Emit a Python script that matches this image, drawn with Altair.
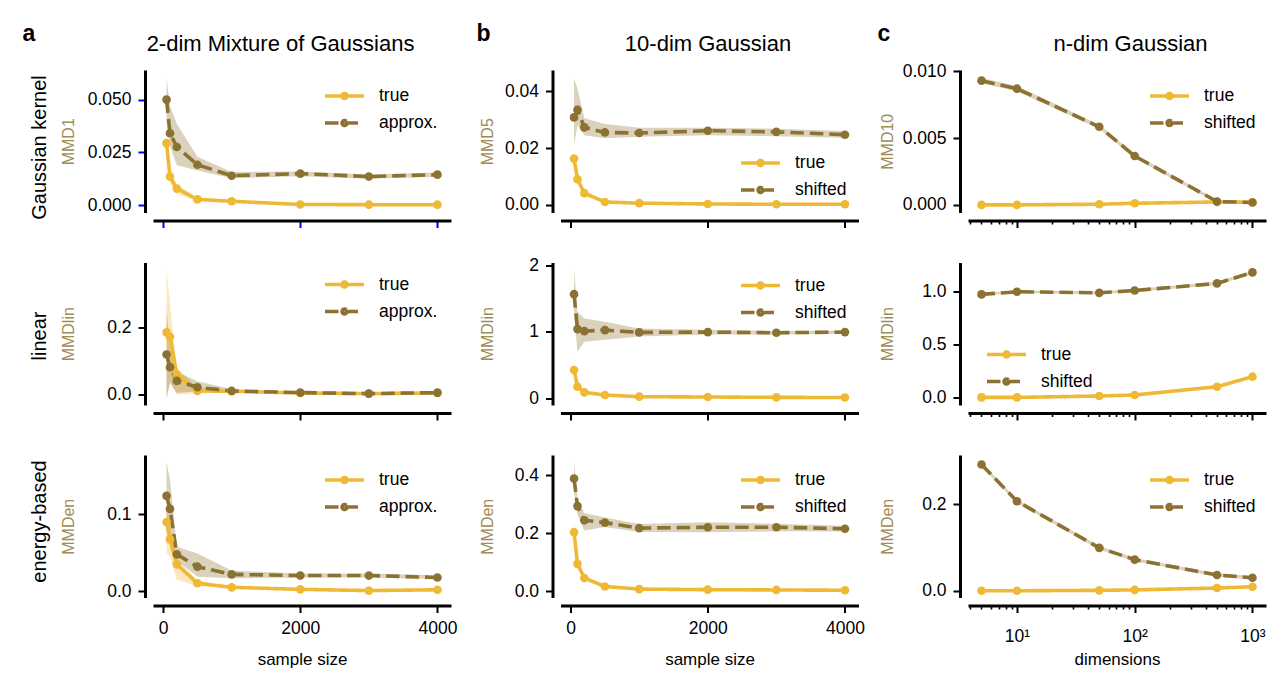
import altair as alt
import pandas as pd

FONT = "Liberation Sans"
YELLOW = "#EFB935"
BROWN = "#8C7232"
YLABEL_COLOR = "#A08C55"

# ---------------- data ----------------
SAMPLE_SIZES = [50, 100, 200, 500, 1000, 2000, 3000, 4000]
DIMENSIONS = [5, 10, 50, 100, 500, 1000]

COLUMN_TITLES = ["2-dim Mixture of Gaussians", "10-dim Gaussian", "n-dim Gaussian"]
PANEL_LETTERS = ["a", "b", "c"]
ROW_LABELS = ["Gaussian kernel", "linear", "energy-based"]
Y_TITLES = [["MMD1", "MMD5", "MMD10"], ["MMDlin", "MMDlin", "MMDlin"], ["MMDen", "MMDen", "MMDen"]]
X_TITLES = ["sample size", "sample size", "dimensions"]
SERIES_A = ["true", "approx."]
SERIES_BC = ["true", "shifted"]
LINEAR_X_TICKS = [0, 2000, 4000]
LOG_TICKS = [10, 100, 1000]
LOG_TICK_LABELS = ["10\u00b9", "10\u00b2", "10\u00b3"]
LOG_MINOR_TICKS = [4, 5, 6, 7, 8, 9, 20, 30, 40, 50, 60, 70, 80, 90,
                   200, 300, 400, 500, 600, 700, 800, 900]

# a: 2-dim mixture of Gaussians
A1_TRUE = [0.0294, 0.0136, 0.0079, 0.0028, 0.0019, 0.0004, 0.0003, 0.0003]
A1_TRUE_LO = [0.0280, 0.0105, 0.0055, 0.0020, 0.0013, 0.0001, 0.0001, 0.0001]
A1_TRUE_HI = [0.0305, 0.0160, 0.0100, 0.0036, 0.0025, 0.0007, 0.0005, 0.0005]
A1_APPROX = [0.0500, 0.0341, 0.0276, 0.0192, 0.0140, 0.0150, 0.0136, 0.0145]
A1_APPROX_LO = [0.0400, 0.0280, 0.0190, 0.0165, 0.0128, 0.0138, 0.0126, 0.0135]
A1_APPROX_HI = [0.0600, 0.0470, 0.0385, 0.0230, 0.0158, 0.0160, 0.0146, 0.0155]

A2_TRUE = [0.186, 0.173, 0.060, 0.011, 0.010, 0.005, 0.003, 0.005]
A2_TRUE_LO = [-0.012, 0.040, 0.000, 0.004, 0.007, 0.003, 0.002, 0.003]
A2_TRUE_HI = [0.375, 0.270, 0.080, 0.022, 0.014, 0.007, 0.005, 0.007]
A2_APPROX = [0.120, 0.082, 0.041, 0.022, 0.011, 0.006, 0.003, 0.006]
A2_APPROX_LO = [-0.010, 0.035, 0.005, 0.010, 0.008, 0.004, 0.002, 0.004]
A2_APPROX_HI = [0.255, 0.140, 0.068, 0.040, 0.016, 0.008, 0.005, 0.008]

A3_TRUE = [0.090, 0.0675, 0.035, 0.0105, 0.0052, 0.0026, 0.0010, 0.0020]
A3_TRUE_LO = [0.050, 0.045, 0.015, 0.007, 0.004, 0.0015, 0.0002, 0.0010]
A3_TRUE_HI = [0.110, 0.085, 0.042, 0.014, 0.0065, 0.0037, 0.0020, 0.0030]
A3_APPROX = [0.124, 0.107, 0.048, 0.032, 0.022, 0.0205, 0.0205, 0.018]
A3_APPROX_LO = [0.085, 0.075, 0.040, 0.019, 0.017, 0.018, 0.018, 0.016]
A3_APPROX_HI = [0.168, 0.145, 0.058, 0.049, 0.027, 0.023, 0.023, 0.021]

# b: 10-dim Gaussian
B1_TRUE = [0.0163, 0.0090, 0.0041, 0.0010, 0.0006, 0.0003, 0.0002, 0.0002]
B1_TRUE_LO = [0.0150, 0.0080, 0.0033, 0.0007, 0.0004, 0.0002, 0.0001, 0.0001]
B1_TRUE_HI = [0.0178, 0.0102, 0.0050, 0.0013, 0.0008, 0.0005, 0.0004, 0.0004]
B1_SHIFT = [0.0308, 0.0335, 0.0273, 0.0255, 0.0253, 0.0261, 0.0257, 0.0247]
B1_SHIFT_LO = [0.0210, 0.0280, 0.0245, 0.0235, 0.0240, 0.0245, 0.0242, 0.0236]
B1_SHIFT_HI = [0.0445, 0.0410, 0.0305, 0.0285, 0.0272, 0.0272, 0.0268, 0.0260]

B2_TRUE = [0.425, 0.175, 0.090, 0.050, 0.025, 0.020, 0.015, 0.012]
B2_TRUE_LO = [0.380, 0.150, 0.075, 0.040, 0.018, 0.013, 0.009, 0.007]
B2_TRUE_HI = [0.470, 0.200, 0.105, 0.060, 0.032, 0.027, 0.021, 0.017]
B2_SHIFT = [1.565, 1.040, 1.010, 1.025, 0.990, 0.995, 0.985, 0.995]
B2_SHIFT_LO = [1.300, 0.700, 0.850, 0.880, 0.930, 0.960, 0.960, 0.970]
B2_SHIFT_HI = [1.950, 1.300, 1.200, 1.150, 1.050, 1.030, 1.010, 1.020]

B3_TRUE = [0.204, 0.095, 0.046, 0.017, 0.008, 0.006, 0.005, 0.004]
B3_TRUE_LO = [0.165, 0.085, 0.040, 0.014, 0.006, 0.004, 0.003, 0.002]
B3_TRUE_HI = [0.245, 0.105, 0.052, 0.020, 0.010, 0.008, 0.007, 0.006]
B3_SHIFT = [0.389, 0.294, 0.245, 0.237, 0.218, 0.221, 0.221, 0.216]
B3_SHIFT_LO = [0.340, 0.265, 0.210, 0.222, 0.205, 0.204, 0.207, 0.206]
B3_SHIFT_HI = [0.445, 0.320, 0.270, 0.255, 0.232, 0.238, 0.233, 0.226]

# c: n-dim Gaussian
C1_TRUE = [0.00000, 0.00000, 0.00005, 0.00012, 0.00022, 0.00020]
C1_TRUE_LO = [-0.00005, -0.00005, 0.00000, 0.00007, 0.00017, 0.00015]
C1_TRUE_HI = [0.00005, 0.00005, 0.00010, 0.00017, 0.00027, 0.00025]
C1_SHIFT = [0.0093, 0.0087, 0.00585, 0.00366, 0.00025, 0.00018]
C1_SHIFT_LO = [0.0091, 0.0085, 0.0057, 0.0035, 0.00012, 0.00008]
C1_SHIFT_HI = [0.0095, 0.0089, 0.0060, 0.0038, 0.00038, 0.00028]

C2_TRUE = [0.000, 0.000, 0.013, 0.023, 0.101, 0.196]
C2_TRUE_LO = [-0.006, -0.006, 0.007, 0.016, 0.093, 0.186]
C2_TRUE_HI = [0.006, 0.006, 0.019, 0.030, 0.109, 0.206]
C2_SHIFT = [0.975, 1.000, 0.990, 1.012, 1.079, 1.183]
C2_SHIFT_LO = [0.962, 0.988, 0.977, 0.998, 1.064, 1.168]
C2_SHIFT_HI = [0.988, 1.012, 1.003, 1.026, 1.094, 1.198]

C3_TRUE = [0.000, 0.000, 0.001, 0.002, 0.0063, 0.0093]
C3_TRUE_LO = [-0.002, -0.002, -0.001, 0.000, 0.0043, 0.0073]
C3_TRUE_HI = [0.002, 0.002, 0.003, 0.004, 0.0083, 0.0113]
C3_SHIFT = [0.292, 0.207, 0.0993, 0.072, 0.0365, 0.030]
C3_SHIFT_LO = [0.288, 0.203, 0.0953, 0.068, 0.0325, 0.026]
C3_SHIFT_HI = [0.296, 0.211, 0.1033, 0.076, 0.0405, 0.034]

DATA = [
    [(A1_TRUE, A1_TRUE_LO, A1_TRUE_HI, A1_APPROX, A1_APPROX_LO, A1_APPROX_HI),
     (B1_TRUE, B1_TRUE_LO, B1_TRUE_HI, B1_SHIFT, B1_SHIFT_LO, B1_SHIFT_HI),
     (C1_TRUE, C1_TRUE_LO, C1_TRUE_HI, C1_SHIFT, C1_SHIFT_LO, C1_SHIFT_HI)],
    [(A2_TRUE, A2_TRUE_LO, A2_TRUE_HI, A2_APPROX, A2_APPROX_LO, A2_APPROX_HI),
     (B2_TRUE, B2_TRUE_LO, B2_TRUE_HI, B2_SHIFT, B2_SHIFT_LO, B2_SHIFT_HI),
     (C2_TRUE, C2_TRUE_LO, C2_TRUE_HI, C2_SHIFT, C2_SHIFT_LO, C2_SHIFT_HI)],
    [(A3_TRUE, A3_TRUE_LO, A3_TRUE_HI, A3_APPROX, A3_APPROX_LO, A3_APPROX_HI),
     (B3_TRUE, B3_TRUE_LO, B3_TRUE_HI, B3_SHIFT, B3_SHIFT_LO, B3_SHIFT_HI),
     (C3_TRUE, C3_TRUE_LO, C3_TRUE_HI, C3_SHIFT, C3_SHIFT_LO, C3_SHIFT_HI)],
]

Y_DOMAINS = [[[-0.0034, 0.064], [-0.0027, 0.0475], [-0.00057, 0.0101]],
             [[-0.031, 0.395], [-0.10, 2.04], [-0.072, 1.277]],
             [[-0.008, 0.177], [-0.021, 0.47], [-0.0156, 0.314]]]
Y_TICKS = [[[0, 0.025, 0.05], [0, 0.02, 0.04], [0, 0.005, 0.01]],
           [[0, 0.2], [0, 1, 2], [0, 0.5, 1.0]],
           [[0, 0.1], [0, 0.2, 0.4], [0, 0.2]]]
Y_FORMATS = [[".3f", ".2f", ".3f"], [".1f", "d", ".1f"], [".1f", ".1f", ".1f"]]

# ---------------- layout / style ----------------
W, H = 298, 142.5
LIN_X_DOMAIN = [-147.5, 4197.5]
LOG_X_DOMAIN = [3.84, 1303]

LEGEND_POS = [[(179.5, 14), (188, 81), (189.5, 14)],
              [(179.5, 10), (188, 11), (26.5, 80)],
              [(179.5, 13), (188, 13), (189.5, 13)]]
YTITLE_X = [-72, -60.5, -68]
LETTER_X = [-131, -84.5, -91]
COLTITLE_X = [127, 147, 162]
ROWLABEL_Y = [77, 73, 66]

LEGEND_PATH = ("M-1.95,0H1.95"
               "M0.25,0A0.25,0.25,0,1,1,-0.25,0A0.25,0.25,0,1,1,0.25,0"
               "M0.12,0A0.12,0.12,0,1,1,-0.12,0A0.12,0.12,0,1,1,0.12,0")


def text_axis_layer(base, xscale, yscale, channel, orient, text, field="mean", **kw):
    ax = alt.Axis(orient=orient, domain=False, ticks=False, labels=False, grid=False,
                  offset=0, title=text, titleColor="black", **kw)
    if channel == "x":
        enc = dict(x=alt.X("x:Q", scale=xscale, axis=ax),
                   y=alt.Y(field + ":Q", scale=yscale, axis=None))
    else:
        enc = dict(x=alt.X("x:Q", scale=xscale, axis=None),
                   y=alt.Y(field + ":Q", scale=yscale, axis=ax))
    return base.mark_point(opacity=0).encode(**enc)


def make_panel(r, c):
    xs = DIMENSIONS if c == 2 else SAMPLE_SIZES
    names = SERIES_A if c == 0 else SERIES_BC
    d = DATA[r][c]
    rows = []
    for name, (m, lo, hi) in zip(names, [(d[0], d[1], d[2]), (d[3], d[4], d[5])]):
        for x, mv, lv, hv in zip(xs, m, lo, hi):
            rows.append({"x": x, "series": name, "mean": mv, "lo": lv, "hi": hv})
    df = pd.DataFrame(rows)
    base = alt.Chart(df)

    if c == 2:
        xscale = alt.Scale(type="log", domain=LOG_X_DOMAIN, nice=False)
    else:
        xscale = alt.Scale(domain=LIN_X_DOMAIN, nice=False, zero=False)
    yscale = alt.Scale(domain=Y_DOMAINS[r][c], nice=False, zero=False)

    bottom = r == 2
    tick_color = "#0000ff" if (r, c) == (0, 0) else "black"

    x_axis_kw = dict(orient="bottom", offset=8, tickSize=7, tickWidth=2, tickColor=tick_color,
                     domainWidth=3, domainColor="black", labelFontSize=17.5,
                     labelPadding=15 if c == 2 else 7,
                     labelColor="black", labels=bottom, grid=False, labelFlush=False,
                     labelOverlap=False,
                     title=X_TITLES[c] if bottom else None, titleFontSize=17,
                     titleFontWeight="normal", titleColor="black", titleX=W / 2,
                     titleY=58.5, titleAlign="center", titleBaseline="alphabetic")
    if c == 2:
        label_expr = " : ".join(f"datum.value == {v} ? '{l}'"
                                for v, l in zip(LOG_TICKS, LOG_TICK_LABELS)) + " : ''"
        x_axis = alt.Axis(values=LOG_TICKS, labelExpr=label_expr, **x_axis_kw)
    else:
        x_axis = alt.Axis(values=LINEAR_X_TICKS, format="d", **x_axis_kw)

    y_axis = alt.Axis(orient="left", offset=8, values=Y_TICKS[r][c], format=Y_FORMATS[r][c],
                      tickSize=7, tickWidth=2, tickColor=tick_color, domainWidth=3,
                      domainColor="black", labelFontSize=17.5, labelPadding=7,
                      labelColor="black",
                      grid=False, labelFlush=False, labelOverlap=False,
                      title=Y_TITLES[r][c], titleColor=YLABEL_COLOR, titleFontSize=16,
                      titleFontWeight="normal", titleAngle=270, titleX=YTITLE_X[c],
                      titleY=H / 2, titleAlign="center", titleBaseline="alphabetic")

    lx, ly = LEGEND_POS[r][c]
    legend = alt.Legend(title=None, orient="none", legendX=lx, legendY=ly,
                        symbolType=LEGEND_PATH, symbolSize=400, symbolStrokeWidth=3.5,
                        labelFontSize=17.5, labelColor="black", labelOffset=22.5,
                        rowPadding=5)

    color_scale = alt.Scale(domain=names, range=[YELLOW, BROWN])
    # reversed domain order keeps the (legend-less) fill scale from absorbing the colour legend
    fill_scale = alt.Scale(domain=names[::-1], range=[BROWN, YELLOW])
    dash_scale = alt.Scale(domain=names, range=[[1, 0], [13.5, 6]])

    band = base.mark_area(opacity=0.32).encode(
        x=alt.X("x:Q", scale=xscale, axis=None),
        y=alt.Y("lo:Q", scale=yscale, axis=None),
        y2="hi:Q",
        fill=alt.Fill("series:N", scale=fill_scale, legend=None),
    )
    line = base.mark_line(strokeWidth=3.6, strokeJoin="round").encode(
        x=alt.X("x:Q", scale=xscale, axis=x_axis),
        y=alt.Y("mean:Q", scale=yscale, axis=y_axis),
        color=alt.Color("series:N", scale=color_scale, legend=legend),
        strokeDash=alt.StrokeDash("series:N", scale=dash_scale, legend=legend),
    )
    points = base.mark_point(filled=True, size=75, opacity=1, strokeWidth=0).encode(
        x=alt.X("x:Q", scale=xscale, axis=None),
        y=alt.Y("mean:Q", scale=yscale, axis=None),
        fill=alt.Fill("series:N", scale=fill_scale, legend=None),
    )
    layers = [band, line, points]

    if c == 2:
        minor = base.mark_point(opacity=0).encode(
            x=alt.X("x:Q", scale=xscale,
                    axis=alt.Axis(orient="bottom", offset=8, values=LOG_MINOR_TICKS,
                                  labels=False, domain=False, ticks=True, tickSize=3.5,
                                  tickWidth=1.6, tickColor="black", grid=False, title=None)),
            y=alt.Y("mean:Q", scale=yscale, axis=None),
        )
        layers.append(minor)

    if r == 0:
        layers.append(text_axis_layer(base, xscale, yscale, "x", "top", PANEL_LETTERS[c],
                                      titleX=LETTER_X[c], titleY=-30, titleAlign="left",
                                      titleBaseline="alphabetic", titleAngle=0,
                                      titleFontSize=23, titleFontWeight="bold"))
        layers.append(text_axis_layer(base, xscale, yscale, "y", "left", COLUMN_TITLES[c],
                                      titleX=COLTITLE_X[c], titleY=-20, titleAlign="center",
                                      titleBaseline="alphabetic", titleAngle=0,
                                      titleFontSize=22, titleFontWeight="normal"))
    if c == 0:
        layers.append(text_axis_layer(base, xscale, yscale, "y", "left", ROW_LABELS[r],
                                      field="hi", titleX=-108, titleY=ROWLABEL_Y[r],
                                      titleAlign="center", titleBaseline="alphabetic",
                                      titleAngle=270, titleFontSize=20,
                                      titleFontWeight="normal"))

    return alt.layer(*layers).resolve_axis(x="independent", y="independent").properties(
        width=W, height=H)


panels = [make_panel(r, c) for r in range(3) for c in range(3)]

chart = alt.ConcatChart(
    concat=panels, columns=3, spacing={"row": 49.5, "column": 109.5}, bounds="flush"
).resolve_scale(
    color="independent", strokeDash="independent", fill="independent"
).properties(
    padding={"left": 22, "top": 22, "right": 2, "bottom": 4}, background="white"
).configure(font=FONT).configure_view(stroke=None)

chart.save("out.html", embed_options={"renderer": "svg", "actions": False})
